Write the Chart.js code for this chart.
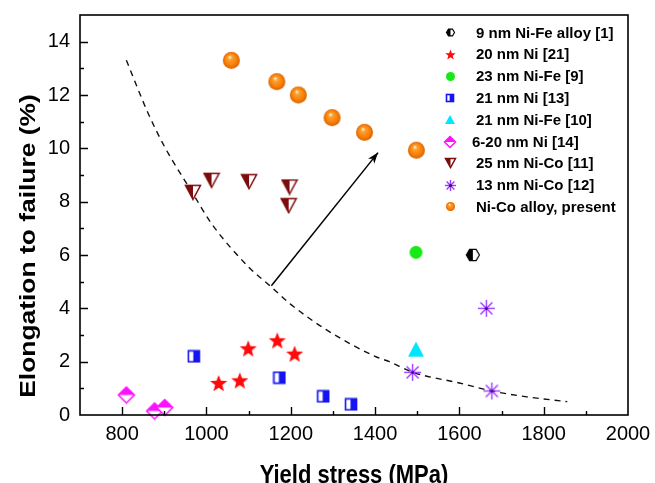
<!DOCTYPE html>
<html>
<head>
<meta charset="utf-8">
<script src="https://cdn.jsdelivr.net/npm/chart.js@4.4.1/dist/chart.umd.min.js"></script>
<style>
  html, body { margin: 0; padding: 0; background: #fff; }
  #wrap { width: 655px; height: 483px; position: relative; }
</style>
</head>
<body>
<div id="wrap"><canvas id="c"></canvas></div>
<script>
// Yield stress vs elongation to failure — nanocrystalline Ni / Ni alloys.

const xTicks = [800, 1000, 1200, 1400, 1600, 1800, 2000];
const yTicks = [0, 2, 4, 6, 8, 10, 12, 14];

const niFe9 = [{ x: 1632, y: 6.0 }];
const ni20 = [{ x: 1029, y: 1.2 }, { x: 1079, y: 1.3 }, { x: 1099, y: 2.5 }, { x: 1168, y: 2.8 }, { x: 1209, y: 2.3 }];
const niFe23 = [{ x: 1497, y: 6.1 }];
const ni21 = [{ x: 970, y: 2.2 }, { x: 1173, y: 1.4 }, { x: 1277, y: 0.7 }, { x: 1343, y: 0.4 }];
const niFe21 = [{ x: 1497, y: 2.45 }];
const ni6to20 = [{ x: 810, y: 0.75 }, { x: 877, y: 0.15 }, { x: 901, y: 0.28 }];
const niCo25 = [{ x: 968, y: 8.35 }, { x: 1012, y: 8.8 }, { x: 1101, y: 8.75 }, { x: 1197, y: 8.55 }, { x: 1195, y: 7.85 }];
const niCo13 = [{ x: 1664, y: 4.0 }, { x: 1489, y: 1.6 }, { x: 1677, y: 0.9 }];
const present = [{ x: 1059, y: 13.3 }, { x: 1167, y: 12.5 }, { x: 1218, y: 12.0 }, { x: 1298, y: 11.15 }, { x: 1375, y: 10.6 }, { x: 1498, y: 9.93 }];

// dashed guide curve
const trendX = [810, 862, 901, 968, 1011, 1100, 1154, 1200, 1284, 1400, 1434, 1490, 1600, 1677, 1760, 1856];
const trendY = [13.3, 11.3, 10.05, 8.3, 7.2, 5.55, 4.8, 4.15, 3.2, 2.2, 2.0, 1.6, 1.2, 0.9, 0.68, 0.5];
// arrow (tail -> head)
const arrowX = [1154, 1407];
const arrowY = [4.85, 9.84];

const FONT = 'Arial, "Liberation Sans", Helvetica, sans-serif';

// ── marker images ─────────────────────────────────────────────────────────────
function mk(w, h, draw) {
  const c = document.createElement('canvas');
  c.width = Math.ceil(w); c.height = Math.ceil(h);
  draw(c.getContext('2d'), c.width, c.height);
  return c;
}
function hexHalf(d) {
  return mk(d + 3, d + 3, (g, w, h) => {
    const cx = w / 2, cy = h / 2, r = d / 2;
    g.beginPath();
    for (let i = 0; i < 6; i++) {
      const a = Math.PI / 3 * i;
      g.lineTo(cx + r * Math.cos(a), cy + r * Math.sin(a));
    }
    g.closePath();
    g.fillStyle = '#fff'; g.fill();
    g.save(); g.clip(); g.fillStyle = '#000'; g.fillRect(0, 0, cx, h); g.restore();
    g.strokeStyle = '#000'; g.lineWidth = 1.2; g.stroke();
  });
}
function star(d, color) {
  return mk(d + 2, d + 2, (g, w, h) => {
    const cx = w / 2, cy = h / 2 + d * 0.05, ro = d / 2, ri = ro * 0.42;
    g.beginPath();
    for (let i = 0; i < 10; i++) {
      const a = -Math.PI / 2 + i * Math.PI / 5, r = i % 2 ? ri : ro;
      g.lineTo(cx + r * Math.cos(a), cy + r * Math.sin(a));
    }
    g.closePath(); g.fillStyle = color; g.fill();
  });
}
function dot(d, color) {
  return mk(d + 2, d + 2, (g, w, h) => {
    g.beginPath(); g.arc(w / 2, h / 2, d / 2, 0, Math.PI * 2);
    g.fillStyle = color; g.fill();
  });
}
function sqHalf(d, color) {
  return mk(d + 2, d + 2, (g, w, h) => {
    const x = 1.5, y = 1.5, s = d - 1;
    g.fillStyle = '#fff'; g.fillRect(x, y, s, s);
    g.fillStyle = color; g.fillRect(x + s * 0.45, y, s * 0.55, s);
    g.strokeStyle = color; g.lineWidth = 1.6; g.strokeRect(x, y, s, s);
  });
}
function triUp(d, color) {
  return mk(d + 2, d + 2, (g, w, h) => {
    g.beginPath(); g.moveTo(w / 2, 1); g.lineTo(w - 1, h - 2); g.lineTo(1, h - 2); g.closePath();
    g.fillStyle = color; g.fill();
  });
}
function diamondHalf(d, color) {
  return mk(d + 3, d + 3, (g, w, h) => {
    const cx = w / 2, cy = h / 2, r = d / 2;
    g.beginPath(); g.moveTo(cx, cy - r); g.lineTo(cx + r, cy); g.lineTo(cx, cy + r); g.lineTo(cx - r, cy); g.closePath();
    g.fillStyle = '#fff'; g.fill();
    g.save(); g.clip(); g.fillStyle = color; g.fillRect(0, 0, w, cy); g.restore();
    g.strokeStyle = color; g.lineWidth = 1.5; g.stroke();
  });
}
function triDownHalf(d, color) {
  return mk(d + 3, d + 2, (g, w, h) => {
    g.beginPath(); g.moveTo(1.5, 1.5); g.lineTo(w - 1.5, 1.5); g.lineTo(w / 2, h - 1.5); g.closePath();
    g.fillStyle = '#fff'; g.fill();
    g.save(); g.clip(); g.fillStyle = color; g.fillRect(0, 0, w / 2, h); g.restore();
    g.strokeStyle = color; g.lineWidth = 1.5; g.stroke();
  });
}
function asterisk(d, color) {
  return mk(d + 2, d + 2, (g, w, h) => {
    const cx = w / 2, cy = h / 2, r = d / 2;
    g.strokeStyle = color; g.lineWidth = 1.4;
    for (let i = 0; i < 4; i++) {
      const a = i * Math.PI / 4;
      g.beginPath(); g.moveTo(cx - r * Math.cos(a), cy - r * Math.sin(a)); g.lineTo(cx + r * Math.cos(a), cy + r * Math.sin(a)); g.stroke();
    }
    g.beginPath(); g.arc(cx, cy, 1.6, 0, Math.PI * 2); g.fillStyle = '#4b0c8c'; g.fill();
  });
}
function sphere(d) {
  return mk(d + 2, d + 2, (g, w, h) => {
    const cx = w / 2, cy = h / 2, r = d / 2;
    const grad = g.createRadialGradient(cx - r * 0.2, cy - r * 0.4, r * 0.05, cx, cy, r);
    grad.addColorStop(0, '#fff0d8');
    grad.addColorStop(0.22, '#ffa030');
    grad.addColorStop(0.7, '#f77f05');
    grad.addColorStop(1, '#d85f00');
    g.beginPath(); g.arc(cx, cy, r, 0, Math.PI * 2); g.fillStyle = grad; g.fill();
  });
}

const RED = '#ff0a0a', GREEN = '#17e817', BLUE = '#1414f0', CYAN = '#00e6ff',
  MAGENTA = '#ff10ff', MAROON = '#7d0d0d', PURPLE = '#9a3cff';

const series = [
  { label: '9 nm Ni-Fe alloy [1]', data: niFe9, img: hexHalf(13), leg: hexHalf(8) },
  { label: '20 nm Ni [21]', data: ni20, img: star(18, RED), leg: star(11, RED) },
  { label: '23 nm Ni-Fe [9]', data: niFe23, img: dot(13, GREEN), leg: dot(9, GREEN) },
  { label: '21 nm Ni [13]', data: ni21, img: sqHalf(12, BLUE), leg: sqHalf(8, BLUE) },
  { label: '21 nm Ni-Fe [10]', data: niFe21, img: triUp(16, CYAN), leg: triUp(10, CYAN) },
  { label: '6-20 nm Ni [14]', data: ni6to20, img: diamondHalf(16, MAGENTA), leg: diamondHalf(11, MAGENTA) },
  { label: '25 nm Ni-Co [11]', data: niCo25, img: triDownHalf(15, MAROON), leg: triDownHalf(10, MAROON) },
  { label: '13 nm Ni-Co [12]', data: niCo13, img: asterisk(17, PURPLE), leg: asterisk(11, PURPLE) },
  { label: 'Ni-Co alloy, present', data: present, img: sphere(17), leg: sphere(9) },
];

// ── plugins ───────────────────────────────────────────────────────────────────
const frame = {
  id: 'frame',
  afterDraw(chart) {
    const { ctx, chartArea: a, scales: { x, y } } = chart;
    ctx.save();
    ctx.strokeStyle = '#000';
    ctx.lineWidth = 1.6;
    ctx.strokeRect(a.left, a.top, a.right - a.left, a.bottom - a.top);
    // inward ticks on bottom and left axes
    ctx.lineWidth = 1.4;
    ctx.beginPath();
    for (let v = 800; v < 2000; v += 100) {
      const px = Math.round(x.getPixelForValue(v)) + 0.5;
      ctx.moveTo(px, a.bottom); ctx.lineTo(px, a.bottom - (v % 200 === 0 ? 8 : 4));
    }
    for (let v = 1; v <= 14; v++) {
      const py = Math.round(y.getPixelForValue(v)) + 0.5;
      ctx.moveTo(a.left, py); ctx.lineTo(a.left + (v % 2 === 0 ? 8 : 4), py);
    }
    ctx.stroke();

    // axis titles (figure is slightly stretched vertically)
    ctx.fillStyle = '#000';
    ctx.font = `bold 22px ${FONT}`;
    ctx.textAlign = 'center';
    ctx.textBaseline = 'alphabetic';
    ctx.save();
    ctx.translate((a.left + a.right) / 2, 483);
    ctx.scale(1, 1.2);
    ctx.fillText('Yield stress (MPa)', 0, 0);
    ctx.restore();
    ctx.save();
    ctx.translate(35, 246);
    ctx.rotate(-Math.PI / 2);
    ctx.scale(1.2, 1);
    ctx.fillText('Elongation to failure (%)', 0, 0);
    ctx.restore();

    // legend
    const mx = a.right - 178, tx = a.right - 152;
    ctx.font = `bold 15px ${FONT}`;
    ctx.textAlign = 'left';
    ctx.textBaseline = 'middle';
    series.forEach((s, i) => {
      const cy = a.top + 17.5 + i * 21.8;
      ctx.drawImage(s.leg, Math.round(mx - s.leg.width / 2), Math.round(cy - s.leg.height / 2));
      ctx.fillText(s.label, i === 5 ? tx - 4 : tx, cy + 1);
    });
    ctx.restore();
  },
};

const arrowHead = {
  id: 'arrowHead',
  afterDatasetsDraw(chart) {
    const idx = chart.data.datasets.findIndex((d) => d.id === 'arrow');
    const pts = chart.getDatasetMeta(idx).data;
    const p0 = pts[0], p1 = pts[1];
    const ang = Math.atan2(p1.y - p0.y, p1.x - p0.x);
    const { ctx } = chart;
    ctx.save();
    ctx.translate(p1.x, p1.y);
    ctx.rotate(ang);
    ctx.beginPath();
    ctx.moveTo(0, 0); ctx.lineTo(-11, -4); ctx.lineTo(-8, 0); ctx.lineTo(-11, 4); ctx.closePath();
    ctx.fillStyle = '#000';
    ctx.fill();
    ctx.restore();
  },
};

// ── chart ─────────────────────────────────────────────────────────────────────
const datasets = [
  {
    type: 'line', label: 'trend', data: trendX.map((x, i) => ({ x, y: trendY[i] })),
    borderColor: '#111', borderWidth: 1.4, borderDash: [6, 5], pointRadius: 0,
    cubicInterpolationMode: 'monotone', fill: false, order: 20,
  },
  {
    id: 'arrow', type: 'line', label: 'arrow', data: arrowX.map((x, i) => ({ x, y: arrowY[i] })),
    borderColor: '#000', borderWidth: 1.5, pointRadius: 0, fill: false, order: 19,
  },
  ...series.map((s, i) => ({
    label: s.label, data: s.data, pointStyle: s.img, pointRadius: 8, pointHoverRadius: 8,
    showLine: false, clip: false, order: 10 - i,
  })),
];

const axisTicks = (vals) => (scale) => { scale.ticks = vals.map((value) => ({ value })); };

new Chart(document.getElementById('c'), {
  type: 'scatter',
  data: { datasets },
  options: {
    responsive: true,
    maintainAspectRatio: false,
    animation: false,
    events: [],
    layout: { padding: { top: 15, right: 27, left: 0, bottom: 0 } },
    plugins: { legend: { display: false }, tooltip: { enabled: false } },
    scales: {
      x: {
        type: 'linear', min: 700, max: 2000,
        afterBuildTicks: axisTicks(xTicks),
        afterFit: (s) => { s.height = 68; s.paddingLeft = 0; s.paddingRight = 0; },
        grid: { display: false, drawTicks: false },
        border: { display: false },
        ticks: { color: '#000', font: { family: FONT, size: 20 }, padding: 7, maxRotation: 0, autoSkip: false, callback: (v) => String(v) },
      },
      y: {
        type: 'linear', min: 0, max: 15,
        afterBuildTicks: axisTicks(yTicks),
        afterFit: (s) => { s.width = 80; s.paddingTop = 0; s.paddingBottom = 0; },
        grid: { display: false, drawTicks: false },
        border: { display: false },
        ticks: { color: '#000', font: { family: FONT, size: 20 }, padding: 10, autoSkip: false, callback: (v) => String(v) },
      },
    },
  },
  plugins: [frame, arrowHead],
});
</script>
</body>
</html>
